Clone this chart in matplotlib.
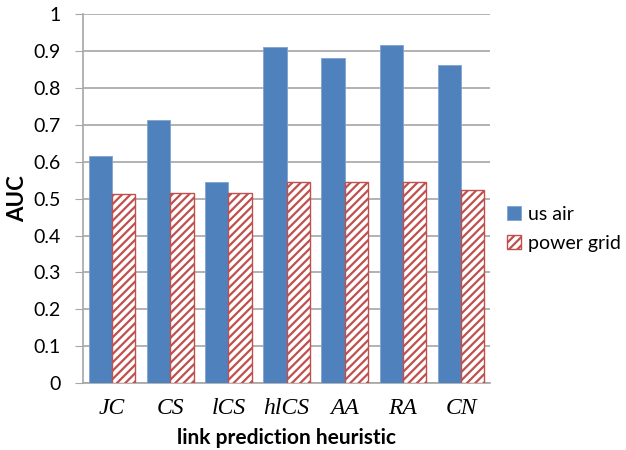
import numpy as np
import matplotlib

matplotlib.use("agg")

import matplotlib.pyplot as plt

# AUC per link prediction heuristic on two networks
heuristics = ["JC", "CS", "lCS", "hlCS", "AA", "RA", "CN"]
us_air = [0.616, 0.714, 0.546, 0.912, 0.881, 0.918, 0.864]
power_grid = [0.513, 0.516, 0.515, 0.545, 0.545, 0.545, 0.525]
y_ticks = [0, 0.1, 0.2, 0.3, 0.4, 0.5, 0.6, 0.7, 0.8, 0.9, 1]

blue = "#4F81BD"
red = "#C0504D"
grid_grey = "#A6A6A6"
label_font = ["Lato", "DejaVu Sans"]

plt.rcParams["hatch.linewidth"] = 1.6

fig = plt.figure(figsize=(6.26, 4.5), dpi=100)
ax = fig.add_axes([0.1326, 0.149, 0.6504, 0.8188])

x = np.arange(len(heuristics))
width = 0.4
ax.bar(x - width / 2, us_air, width, color=blue, edgecolor="#7FA3D0",
       linewidth=0.6, label="us air", zorder=3)
ax.bar(x + width / 2, power_grid, width, facecolor="white", edgecolor=red,
       hatch="////", linewidth=1.0, label="power grid", zorder=3)

ax.set_xlim(-0.5, len(heuristics) - 0.5)
ax.set_ylim(0, 1)
ax.set_yticks(y_ticks)
ax.set_yticklabels([f"{t:g}" for t in y_ticks], family=label_font, fontsize=14)
ax.set_xticks(x)
ax.set_xticklabels(heuristics, family="Liberation Serif", style="italic",
                   fontsize=17)
ax.tick_params(axis="x", length=0, pad=11)
ax.tick_params(axis="y", length=6, color=grid_grey, pad=10)

ax.yaxis.grid(True, color=grid_grey, linewidth=1.2, zorder=0)
ax.set_axisbelow(True)
for side in ["top", "right"]:
    ax.spines[side].set_visible(False)
for side in ["left", "bottom"]:
    ax.spines[side].set_color(grid_grey)
    ax.spines[side].set_linewidth(1.2)

ax.set_ylabel("AUC", family=label_font, fontweight="bold", fontsize=16,
              labelpad=4)
ax.set_xlabel("link prediction heuristic", family=label_font,
              fontweight="bold", fontsize=15, labelpad=6)

ax.legend(loc="center left", bbox_to_anchor=(1.042, 0.418), frameon=False,
          prop={"family": label_font, "size": 14}, handlelength=0.7,
          handleheight=0.7, handletextpad=0.35, labelspacing=0.6,
          borderpad=0, borderaxespad=0)

fig.savefig("out.png", dpi=100)
